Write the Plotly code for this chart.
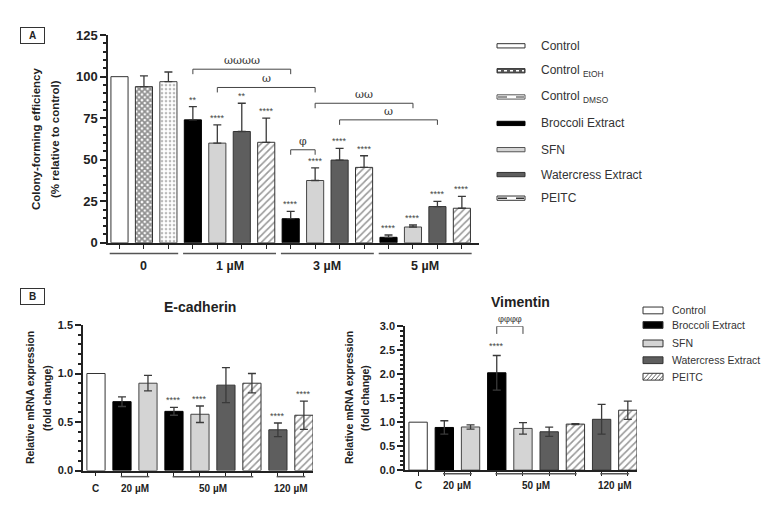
import plotly.graph_objects as go

W, H = 768, 506
def px(x):
    return x / W
def py(y):
    return 1 - y / H

FONT = "Liberation Sans, Arial, sans-serif"
INK = "#222222"

# ---------------- Panel A data ----------------
a_series_order = ["Control", "Control EtOH", "Control DMSO", "Broccoli Extract",
                  "SFN", "Watercress Extract", "PEITC"]
a_legend_text = ["Control", "Control <sub>EtOH</sub>", "Control <sub>DMSO</sub>",
                 "Broccoli Extract", "SFN", "Watercress Extract", "PEITC"]
a_groups = ["0", "1 µM", "3 µM", "5 µM"]
a_group_of_bar = ["0"] * 3 + ["1 µM"] * 4 + ["3 µM"] * 4 + ["5 µM"] * 4
a_series_of_bar = ["Control", "Control EtOH", "Control DMSO"] + \
    ["Broccoli Extract", "SFN", "Watercress Extract", "PEITC"] * 3
a_values = [100, 94, 97, 74, 60, 67, 60.5, 14.5, 37.5, 49.8, 45.4, 3.3, 9.5, 21.8, 20.8]
a_errors = [0, 6.5, 5.8, 8, 11, 17, 14.5, 4.4, 7.6, 7, 7, 1.4, 1.2, 3.1, 7.2]
a_stars = ["", "", "", "**", "****", "**", "****"] + ["****"] * 8
a_brackets = [  # (from bar, to bar, height, label)
    (3, 7, 104.5, "ωωωω"),
    (4, 8, 93.5, "ω"),
    (8, 12, 84, "ωω"),
    (9, 13, 74, "ω"),
    (7, 8, 56, "φ"),
]
a_ticks = [0, 25, 50, 75, 100, 125]

# ---------------- Panel B data ----------------
b_series_order = ["Control", "Broccoli Extract", "SFN", "Watercress Extract", "PEITC"]
b_groups = ["C", "20 µM", "50 µM", "120 µM"]
b_group_of_bar = ["C", "20 µM", "20 µM", "50 µM", "50 µM", "50 µM", "50 µM", "120 µM", "120 µM"]
b_series_of_bar = ["Control", "Broccoli Extract", "SFN", "Broccoli Extract", "SFN",
                   "Watercress Extract", "PEITC", "Watercress Extract", "PEITC"]
ecad_values = [1.0, 0.71, 0.90, 0.61, 0.58, 0.88, 0.90, 0.42, 0.57]
ecad_errors = [0, 0.05, 0.08, 0.04, 0.085, 0.18, 0.10, 0.07, 0.145]
ecad_stars = ["", "", "", "****", "****", "", "", "****", "****"]
ecad_ticks = [0.0, 0.5, 1.0, 1.5]
vim_values = [1.0, 0.89, 0.90, 2.03, 0.87, 0.80, 0.96, 1.06, 1.25]
vim_errors = [0, 0.14, 0.045, 0.36, 0.12, 0.095, 0.01, 0.31, 0.19]
vim_stars = ["", "", "", "****", "", "", "", "", ""]
vim_brackets = [(3, 4, 3.0, "φφφφ")]
vim_ticks = [0.0, 0.5, 1.0, 1.5, 2.0, 2.5, 3.0]

# ---------------- styles ----------------
styles = {
    "Control": dict(color="white", line=dict(color="#333", width=1)),
    "Control EtOH": dict(color="white", line=dict(color="#333", width=1),
                         pattern=dict(shape="x", fgcolor="#222", bgcolor="white", size=4, solidity=0.7)),
    "Control DMSO": dict(color="white", line=dict(color="#444", width=1),
                         pattern=dict(shape=".", fgcolor="#777", bgcolor="white", size=4, solidity=0.35)),
    "Broccoli Extract": dict(color="black", line=dict(color="black", width=1)),
    "SFN": dict(color="#d4d4d4", line=dict(color="#444", width=1)),
    "Watercress Extract": dict(color="#5e5e5e", line=dict(color="#333", width=1)),
    "PEITC": dict(color="white", line=dict(color="#333", width=1),
                  pattern=dict(shape="/", fgcolor="#333", bgcolor="white", size=5, solidity=0.32)),
}

fig = go.Figure()
annotations = []
shapes = []


def add_bars(series_order, series_of_bar, values, errors, xa, ya, symmetric, width):
    for s in series_order:
        idx = [i for i, v in enumerate(series_of_bar) if v == s]
        errs = [errors[i] for i in idx]
        err = dict(type="data", array=errs, color="#3a3a3a", thickness=1.3, width=4,
                   visible=any(e > 0 for e in errs))
        if not symmetric:
            err["symmetric"] = False
            err["arrayminus"] = [0] * len(idx)
        fig.add_trace(go.Bar(
            x=idx, y=[values[i] for i in idx], width=width, name=s,
            marker=styles[s], error_y=err, xaxis=xa, yaxis=ya, showlegend=False,
        ))


def add_stars(values, errors, stars, xa, ya, yshift, size):
    for i, st in enumerate(stars):
        if st:
            annotations.append(dict(x=i, y=values[i] + errors[i], xref=xa, yref=ya, text=st,
                                    showarrow=False, yanchor="bottom", yshift=yshift,
                                    font=dict(family=FONT, size=size, color="#444")))


def add_brackets(brackets, drop, xa, ya, size):
    for a, b, h, lab in brackets:
        shapes.append(dict(type="path", xref=xa, yref=ya,
                           path=f"M {a},{h - drop} L {a},{h} L {b},{h} L {b},{h - drop}",
                           line=dict(color="#444", width=1)))
        annotations.append(dict(x=(a + b) / 2, y=h, xref=xa, yref=ya, text=lab, showarrow=False,
                                yanchor="bottom", yshift=0,
                                font=dict(family="DejaVu Serif, serif", size=size, color="#333")))


def add_groups(groups, group_of_bar, xa, line_y, label_y, pad, size, single_line):
    for g in groups:
        idx = [i for i, v in enumerate(group_of_bar) if v == g]
        lo, hi = min(idx), max(idx)
        if len(idx) > 1 or single_line:
            shapes.append(dict(type="line", xref=xa, yref="paper", x0=lo - pad[0], x1=hi + pad[1],
                               y0=py(line_y), y1=py(line_y), line=dict(color="#555", width=1.5)))
        annotations.append(dict(x=(lo + hi) / 2, y=py(label_y), xref=xa, yref="paper", text=g,
                                showarrow=False, yanchor="middle",
                                font=dict(family=FONT, size=size, color=INK, weight="bold")))


# Panel A
add_bars(a_series_order, a_series_of_bar, a_values, a_errors, "x", "y", False, 0.7)
add_stars(a_values, a_errors, a_stars, "x", "y", 0, 9)
add_brackets(a_brackets, 3, "x", "y", 11)
add_groups(a_groups, a_group_of_bar, "x", 254, 267, (0.4, 0.4), 12.5, True)

# Panel B (E-cadherin, Vimentin)
add_bars(b_series_order, b_series_of_bar, ecad_values, ecad_errors, "x2", "y2", True, 0.7)
add_stars(ecad_values, ecad_errors, ecad_stars, "x2", "y2", 0, 9)
add_groups(b_groups, b_group_of_bar, "x2", 484, 496, (0.05, 0.05), 10, False)

add_bars(b_series_order, b_series_of_bar, vim_values, vim_errors, "x3", "y3", True, 0.7)
add_stars(vim_values, vim_errors, vim_stars, "x3", "y3", 3, 9)
add_brackets(vim_brackets, 0.16, "x3", "y3", 8.5)
add_groups(b_groups, b_group_of_bar, "x3", 481, 493, (0.05, 0.05), 10, False)

# ---------------- axes ----------------
def xaxis(dom, n, rng, anchor):
    return dict(domain=dom, range=rng, anchor=anchor, showline=True, linecolor=INK, linewidth=1.5,
                ticks="outside", ticklen=4, tickcolor=INK, tickvals=list(range(n)),
                showticklabels=False, showgrid=False, zeroline=False)


def yaxis(dom, rng, tickvals, minor, anchor, size, fmt):
    return dict(domain=dom, range=rng, anchor=anchor, showline=True, linecolor=INK, linewidth=1.5,
                ticks="outside", ticklen=6, tickwidth=1.5, tickcolor=INK, tickvals=tickvals,
                tickformat=fmt, showgrid=False, zeroline=False,
                minor=dict(dtick=minor, ticks="outside", ticklen=3, tickcolor=INK),
                tickfont=dict(family=FONT, size=size, color=INK, weight="bold"))


layout = dict(
    width=W, height=H, margin=dict(l=0, r=0, t=0, b=0),
    paper_bgcolor="white", plot_bgcolor="white", barmode="overlay", showlegend=False,
    xaxis=xaxis([px(108), px(479)], len(a_values), [-0.47, 14.7], "y"),
    yaxis=yaxis([py(243), py(29)], [0, 125], a_ticks, 5, "x", 13, "d"),
    xaxis2=xaxis([px(83), px(313)], len(ecad_values), [-0.5, 8.35], "y2"),
    yaxis2=yaxis([py(477.7), py(327.7)], [0, 1.5], ecad_ticks, 0.1, "x2", 11, ".1f"),
    xaxis3=xaxis([px(405), px(637)], len(vim_values), [-0.5, 8.35], "y3"),
    yaxis3=yaxis([py(477.3), py(329)], [0, 3.0], vim_ticks, 0.1, "x3", 11, ".1f"),
)

# ---------------- text ----------------
def txt(x, y, text, size, bold=False, angle=0, xanchor="center", color=INK, family=FONT):
    annotations.append(dict(x=px(x), y=py(y), xref="paper", yref="paper", text=text, showarrow=False,
                            xanchor=xanchor, yanchor="middle", textangle=angle,
                            font=dict(family=family, size=size, color=color,
                                      weight="bold" if bold else "normal")))

# panel labels
for lab, yy in [("A", 20.5), ("B", 298.5)]:
    annotations.append(dict(x=px(19.5), y=py(yy), xref="paper", yref="paper", text=lab,
                            showarrow=False, bordercolor="#333", borderwidth=1, width=21, height=13,
                            bgcolor="white", font=dict(family=FONT, size=10, color=INK, weight="bold")))

txt(36, 136, "Colony-forming efficiency", 11.5, True, -90)
txt(55, 136, "(% relative to control)", 11.5, True, -90)
txt(30, 403, "Relative mRNA expression", 10.5, True, -90)
txt(47, 403, "(fold change)", 10.5, True, -90)
txt(349, 403, "Relative mRNA expression", 10.5, True, -90)
txt(365, 403, "(fold change)", 10.5, True, -90)
txt(200, 309, "E-cadherin", 14, True)
txt(520, 304, "Vimentin", 14, True)

# ---------------- legend A (swatches) ----------------
a_rows = [40, 65.7, 92.7, 120, 147, 172.7, 197]
a_sw = {
    "Control": ("white", "#333", None),
    "Control EtOH": ("#555", "#333", ("white", "dot")),
    "Control DMSO": ("white", "#555", ("#777", "dash")),
    "Broccoli Extract": ("black", "black", None),
    "SFN": ("#d4d4d4", "#555", None),
    "Watercress Extract": ("#5e5e5e", "#333", None),
    "PEITC": ("white", "#333", ("#333", "dash")),
}
for s, lab, yy in zip(a_series_order, a_legend_text, a_rows):
    fill, edge, over = a_sw[s]
    shapes.append(dict(type="rect", xref="paper", yref="paper", x0=px(497), x1=px(525),
                       y0=py(yy + 2.2), y1=py(yy - 2.2), fillcolor=fill, line=dict(color=edge, width=1)))
    if over:
        shapes.append(dict(type="line", xref="paper", yref="paper", x0=px(498), x1=px(524),
                           y0=py(yy), y1=py(yy), line=dict(color=over[0], width=1.5, dash=over[1])))
    txt(539, yy, lab, 12, False, 0, "left", "#333")

# ---------------- legend B (swatches) ----------------
b_rows = [312.7, 327.7, 346.7, 364, 381]
b_sw = {"Control": "white", "Broccoli Extract": "black", "SFN": "#d4d4d4",
        "Watercress Extract": "#5e5e5e", "PEITC": "white"}
for s, yy in zip(b_series_order, b_rows):
    shapes.append(dict(type="rect", xref="paper", yref="paper", x0=px(643), x1=px(663),
                       y0=py(yy + 3.5), y1=py(yy - 3.5), fillcolor=b_sw[s],
                       line=dict(color="#333", width=1)))
    if s == "PEITC":
        segs = []
        for k in range(5):
            xa0 = 643 + 4 * k
            segs.append(f"M {px(xa0):.5f},{py(yy + 3.5):.5f} L {px(min(xa0 + 6, 663)):.5f},{py(yy + 3.5 - 7 * min(6, 663 - xa0) / 6):.5f}")
        shapes.append(dict(type="path", xref="paper", yref="paper", path=" ".join(segs),
                           line=dict(color="#444", width=0.8)))
    txt(670, yy, s, 10.5, False, 0, "left", "#333")

layout["annotations"] = annotations
layout["shapes"] = shapes
fig.update_layout(**layout)
fig.write_html(
    "out.html",
    config={"displayModeBar": False},
    post_script=("document.documentElement.style.margin='0';document.body.style.margin='0';"
                 "document.body.style.overflow='hidden';"
                 "var d=document.querySelector('.plotly-graph-div');"
                 "d.style.position='fixed';d.style.top='0px';d.style.left='0px';"),
)
